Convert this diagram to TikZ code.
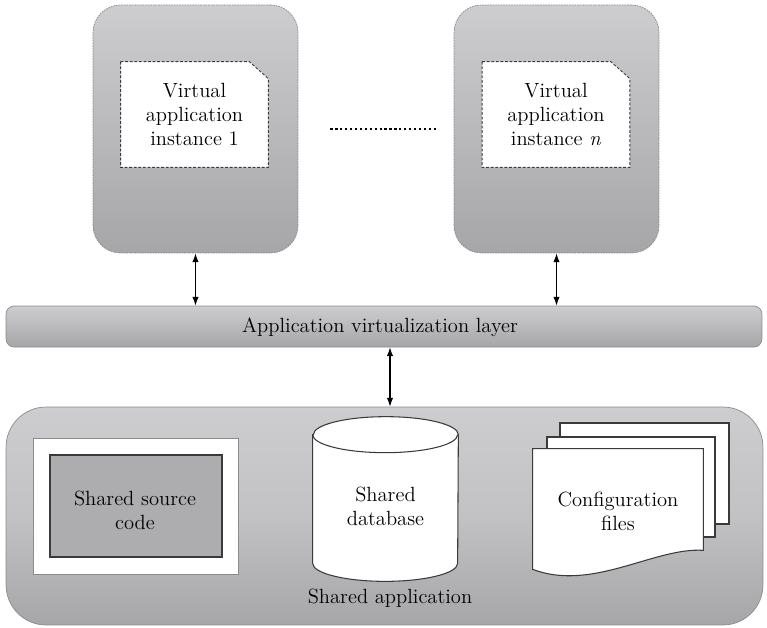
\documentclass[tikz,border=0pt]{standalone}
\usetikzlibrary{arrows.meta}
\definecolor{pTop}{HTML}{CDCDCF}
\definecolor{pMid}{HTML}{C2C2C4}
\definecolor{pBot}{HTML}{A6A6A8}
\definecolor{edgeG}{HTML}{8C8C8E}
\definecolor{lineD}{HTML}{3A3A3A}
\definecolor{innerG}{HTML}{ADADAF}
\tikzset{
  lbl/.style={font=\fontsize{11.7}{13.6}\selectfont, align=center, text=black},
  panel/.style={draw=edgeG, line width=0.4pt, dash pattern=on 1pt off 0.5pt,
    top color=pTop, bottom color=pBot, rounded corners=0.55cm,
    minimum width=4.1cm, minimum height=4.96cm, inner sep=0pt},
  docarea/.style={minimum width=2.94cm, minimum height=2.1cm, inner sep=0pt},
  docline/.style={draw=lineD, fill=white, line width=0.5pt, dash pattern=on 1.6pt off 1pt},
  barbox/.style={draw=edgeG, line width=0.4pt, top color=pTop, bottom color=pBot,
    rounded corners=0.16cm, minimum width=15.12cm, minimum height=0.82cm, inner sep=0pt},
  basebox/.style={draw=edgeG, line width=0.4pt, top color=pTop, bottom color=pBot,
    middle color=pMid, rounded corners=0.8cm, minimum width=15.14cm, minimum height=4.36cm, inner sep=0pt},
  solidline/.style={draw=lineD, line width=0.6pt},
  page/.style={solidline, fill=white, inner sep=0pt},
  biarrow/.style={line width=0.6pt, {Latex[length=5pt,width=3.6pt]}-{Latex[length=5pt,width=3.6pt]}}
}
\begin{document}
\begin{tikzpicture}[x=0.02cm,y=-0.02cm]
\useasboundingbox (0,0) rectangle (767,627);

% top panels
\node[panel] (box1) at (195.5,129) {};
\node[panel] (box2) at (556.5,129) {};

% documents in panels
\node[docarea] (doc1) at (194.5,114.5) {};
\path[docline] (doc1.north west) -- ([xshift=-0.38cm]doc1.north east) -- ([yshift=-0.34cm]doc1.north east) -- (doc1.south east) -- (doc1.south west) -- cycle;
\node[lbl] (doc1t) at (doc1) {Virtual\\application\\instance 1};

\node[docarea] (doc2) at (556,114.5) {};
\path[docline] (doc2.north west) -- ([xshift=-0.38cm]doc2.north east) -- ([yshift=-0.34cm]doc2.north east) -- (doc2.south east) -- (doc2.south west) -- cycle;
\node[lbl] (doc2t) at (doc2) {Virtual\\application\\instance \textit{n}};

% dotted ellipsis
\draw[line width=1.3pt, dash pattern=on 1.3pt off 1.5pt] ([xshift=0.64cm]box1.east) -- ([xshift=-0.36cm]box2.west);

% virtualization layer
\node[barbox] (bar) at (384,326.5) {};
\node[lbl] (bart) at (380,327.5) {Application virtualization layer};

% shared application
\node[basebox] (base) at (384.5,516) {};

% shared source code
\node[draw=edgeG, line width=0.5pt, fill=white, minimum width=4.1cm, minimum height=2.72cm, inner sep=0pt] (src) at (135.5,506) {};
\node[solidline, fill=innerG, minimum width=3.44cm, minimum height=2.04cm, inner sep=0pt] (srcin) at (136,506) {};
\node[lbl] (srct) at (135,510) {Shared source\\code};

% shared database (cylinder)
\node[minimum width=2.9cm, minimum height=3.28cm, inner sep=0pt] (db) at (385.5,499) {};
\path[solidline, fill=white] ([yshift=-0.36cm]db.north west) -- ([yshift=0.36cm]db.south west)
   arc[start angle=180, end angle=360, x radius=1.45cm, y radius=0.36cm]
   -- ([yshift=-0.36cm]db.north east)
   arc[start angle=0, end angle=180, x radius=1.45cm, y radius=0.36cm] -- cycle;
\draw[solidline] ([yshift=-0.36cm]db.north west)
   arc[start angle=180, end angle=360, x radius=1.45cm, y radius=0.36cm];
\node[lbl] (dbt) at (385.5,506.5) {Shared\\database};

\node[lbl] (baset) at (390,598) {Shared application};

% configuration files
\node[page, minimum width=3.38cm, minimum height=2.02cm] (pg3) at (644.5,473.5) {};
\node[page, minimum width=3.36cm, minimum height=2cm] (pg2) at (631,487) {};
\node[minimum width=3.4cm, minimum height=2.4cm, inner sep=0pt] (pg1) at (618,509) {};
\path[page] (pg1.north west) -- (pg1.north east) -- ([yshift=0.38cm]pg1.south east)
  .. controls (655,547) and (592,592) .. (pg1.south west) -- cycle;
\node[lbl] (pg1t) at (618,511) {Configuration\\files};

% connectors
\coordinate (midx) at ([xshift=0.09cm]db.north);
\draw[biarrow] (box1.south) -- (box1.south |- bar.north);
\draw[biarrow] (box2.south) -- (box2.south |- bar.north);
\draw[biarrow] (bar.south -| midx) -- (base.north -| midx);
\end{tikzpicture}
\end{document}
